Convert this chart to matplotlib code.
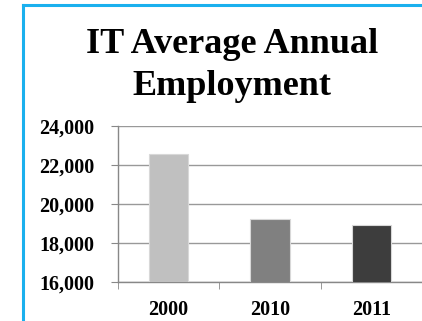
import matplotlib.pyplot as plt
from matplotlib.lines import Line2D

years = ["2000", "2010", "2011"]
employment = [22550, 19250, 18940]
bar_colors = ["#c0c0c0", "#808080", "#3d3d3d"]
y_ticks = [16000, 18000, 20000, 22000, 24000]

plt.rcParams['font.family'] = ['Liberation Serif', 'DejaVu Serif']

fig = plt.figure(figsize=(4.22, 3.21), dpi=100)
ax = fig.add_axes([0.2796, 0.1215, 0.7204, 0.486])

x = range(len(years))
ax.bar(x, employment, width=0.39, color=bar_colors, edgecolor="#d8d8d8", linewidth=0.8, zorder=3)

ax.set_ylim(16000, 24000)
ax.set_xlim(-0.5, 2.5)
ax.set_yticks(y_ticks)
ax.set_yticklabels(["{:,}".format(v) for v in y_ticks], fontsize=14.5, fontweight="bold")
ax.set_xticks(list(x))
ax.set_xticklabels(years, fontsize=14.5, fontweight="bold")
ax.set_xticks([-0.5, 0.5, 1.5, 2.5], minor=True)
ax.tick_params(axis="x", which="major", length=0, pad=13)
ax.tick_params(axis="x", which="minor", length=5, color="#888888", direction="out")
ax.tick_params(axis="y", length=5, color="#888888", pad=12)
ax.grid(axis="y", color="#999999", linewidth=1, zorder=0)
for s in ["top", "right"]:
    ax.spines[s].set_visible(False)
for s in ["left", "bottom"]:
    ax.spines[s].set_color("#888888")
    ax.spines[s].set_linewidth(1)

fig.text(0.55, 0.795, "IT Average Annual\nEmployment", ha="center", va="center",
         fontsize=26, fontweight="bold", linespacing=1.35)

# blue frame on the left and top
blue = "#1ab0ee"
fig.add_artist(Line2D([23 / 422, 23 / 422], [0, 1 - 5 / 321], color=blue, linewidth=2.2))
fig.add_artist(Line2D([23 / 422, 1], [1 - 5 / 321, 1 - 5 / 321], color=blue, linewidth=2.2))

plt.savefig("out.png", dpi=100)
